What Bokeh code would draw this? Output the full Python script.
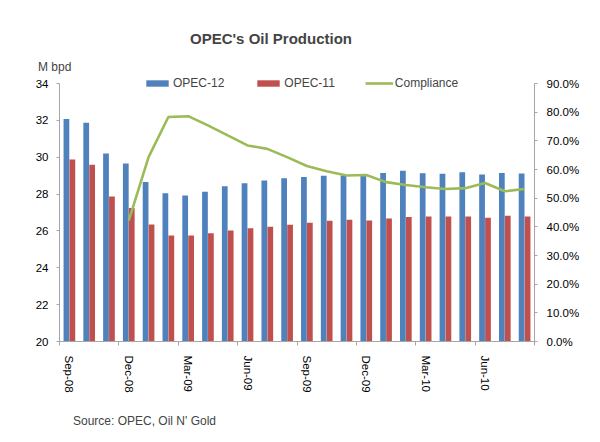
import numpy as np
from bokeh.plotting import figure
from bokeh.models import (Range1d, LinearAxis, FixedTicker, NumeralTickFormatter,
                          Legend, LegendItem, Label, ColumnDataSource)
from bokeh.transform import dodge
from bokeh.embed import file_html
from bokeh.resources import INLINE

months = ["Sep-08", "Oct-08", "Nov-08", "Dec-08", "Jan-09", "Feb-09", "Mar-09", "Apr-09",
          "May-09", "Jun-09", "Jul-09", "Aug-09", "Sep-09", "Oct-09", "Nov-09", "Dec-09",
          "Jan-10", "Feb-10", "Mar-10", "Apr-10", "May-10", "Jun-10", "Jul-10", "Aug-10"]
opec12 = [32.08, 31.87, 30.20, 29.66, 28.66, 28.05, 27.92, 28.12, 28.43, 28.59, 28.74, 28.86,
          28.92, 28.99, 29.01, 29.01, 29.15, 29.26, 29.13, 29.10, 29.19, 29.06, 29.15, 29.12]
opec11 = [29.88, 29.59, 27.87, 27.25, 26.35, 25.75, 25.75, 25.88, 26.02, 26.15, 26.22, 26.33,
          26.44, 26.55, 26.60, 26.57, 26.68, 26.75, 26.78, 26.78, 26.78, 26.71, 26.82, 26.78]
compliance = [np.nan, np.nan, np.nan, 0.422, 0.643, 0.783, 0.786, 0.754, 0.719, 0.684, 0.672, 0.643,
              0.612, 0.594, 0.579, 0.581, 0.556, 0.546, 0.538, 0.532, 0.535, 0.553, 0.524, 0.532]
left_ticks = [20, 22, 24, 26, 28, 30, 32, 34]
right_ticks = [0.0, 0.1, 0.2, 0.3, 0.4, 0.5, 0.6, 0.7, 0.8, 0.9]
label_every = 3

FONT = "Liberation Sans"
AXIS_GREY = "#a6a6a6"
BLUE, RED, GREEN = "#4F81BD", "#C0504D", "#9BBB59"

# canvas & plot-area geometry (pixels)
W, H = 584, 434
PL, PR, PT, PB = 59, 534, 83, 341

n = len(months)
xs = np.arange(n) + 0.5

# whole canvas is the frame; axes are pinned at the plot-area edges
xpx = n / (PR - PL)
x0, x1 = -PL * xpx, n + (W - PR) * xpx
ylo, yhi = left_ticks[0], left_ticks[-1]
ypx = (yhi - ylo) / (PB - PT)
y0, y1 = ylo - (H - PB) * ypx, yhi + PT * ypx
plo, phi = right_ticks[0], right_ticks[-1]
ppx = (phi - plo) / (PB - PT)
p0, p1 = plo - (H - PB) * ppx, phi + PT * ppx

src = ColumnDataSource(dict(x=xs, o12=opec12, o11=opec11, comp=compliance))

p = figure(width=W, height=H, output_backend="svg", toolbar_location=None,
           x_range=Range1d(x0, x1), y_range=Range1d(y0, y1),
           min_border=0, min_border_left=0, min_border_right=0,
           min_border_top=0, min_border_bottom=0)
p.outline_line_color = None
p.xgrid.visible = False
p.ygrid.visible = False
p.extra_y_ranges = {"pct": Range1d(p0, p1)}

r12 = p.vbar(x=dodge("x", -0.15, range=p.x_range), top="o12", bottom=ylo, width=0.29,
             source=src, fill_color=BLUE, line_color=None)
r11 = p.vbar(x=dodge("x", 0.15, range=p.x_range), top="o11", bottom=ylo, width=0.29,
             source=src, fill_color=RED, line_color=None)
rc = p.line(x="x", y="comp", source=src, y_range_name="pct", line_color=GREEN, line_width=2.6)

# x axis: labels at category centres, ticks at category boundaries
major = [float(xs[i]) for i in range(0, n, label_every)]
minor = [float(i) for i in range(0, n + 1, label_every)]
xa = p.xaxis[0]
xa.fixed_location = ylo
xa.bounds = (0, n)
xa.ticker = FixedTicker(ticks=major, minor_ticks=minor)
xa.major_label_overrides = {float(xs[i]): months[i] for i in range(0, n, label_every)}
xa.major_label_orientation = "vertical"
xa.major_tick_line_color = None
xa.minor_tick_in = 0
xa.minor_tick_out = 4
xa.minor_tick_line_color = AXIS_GREY
xa.axis_line_color = AXIS_GREY
xa.major_label_standoff = 8
xa.major_label_text_font = FONT
xa.major_label_text_font_size = "11.5px"
xa.major_label_text_color = "black"

ya = p.yaxis[0]
ya.fixed_location = 0
ya.bounds = (ylo, yhi)
ya.ticker = FixedTicker(ticks=left_ticks)
ya.minor_tick_line_color = None
ya.major_tick_in = 0
ya.major_tick_out = 3
ya.major_tick_line_color = AXIS_GREY
ya.axis_line_color = AXIS_GREY
ya.major_label_standoff = 8
ya.major_label_text_font = FONT
ya.major_label_text_font_size = "11.5px"
ya.major_label_text_color = "black"

ra = LinearAxis(y_range_name="pct", ticker=FixedTicker(ticks=right_ticks),
                formatter=NumeralTickFormatter(format="0.0%"),
                fixed_location=n, bounds=(plo, phi))
ra.minor_tick_line_color = None
ra.major_tick_in = 0
ra.major_tick_out = 3
ra.major_tick_line_color = AXIS_GREY
ra.axis_line_color = AXIS_GREY
ra.major_label_standoff = 9
ra.major_label_text_font = FONT
ra.major_label_text_font_size = "11.5px"
ra.major_label_text_color = "black"
p.add_layout(ra, "right")

legend = Legend(items=[LegendItem(label="OPEC-12", renderers=[r12]),
                       LegendItem(label="OPEC-11", renderers=[r11]),
                       LegendItem(label="Compliance", renderers=[rc])],
                orientation="horizontal", location=(143, H - 90),
                glyph_width=28, glyph_height=8, label_standoff=2, spacing=30,
                padding=0, margin=0, label_height=14,
                border_line_color=None, background_fill_alpha=0,
                label_text_font=FONT, label_text_font_size="12px")
p.add_layout(legend, "center")

p.add_layout(Label(x=270.5, y=H - 46.5, x_units="screen", y_units="screen",
                   text="OPEC's Oil Production", text_align="center",
                   text_font=FONT, text_font_size="15px", text_font_style="bold"))
p.add_layout(Label(x=37.5, y=H - 73, x_units="screen", y_units="screen",
                   text="M bpd", text_font=FONT, text_font_size="12px"))
p.add_layout(Label(x=72.5, y=H - 427.5, x_units="screen", y_units="screen",
                   text="Source: OPEC, Oil N' Gold", text_font=FONT, text_font_size="12px"))

open("out.html", "w").write(file_html(p, INLINE))
